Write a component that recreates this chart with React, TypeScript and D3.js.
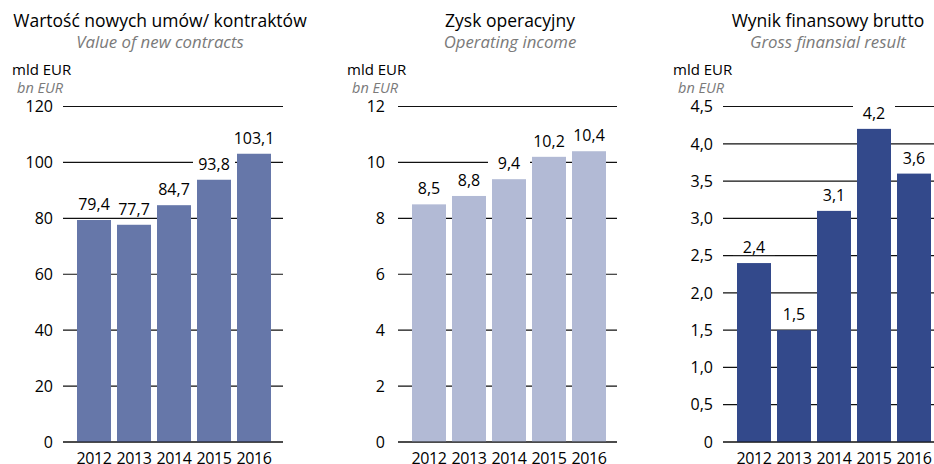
import React from "react";
import * as d3 from "d3";

const years = ["2012", "2013", "2014", "2015", "2016"];

const contractsValues = [79.4, 77.7, 84.7, 93.8, 103.1];
const contractsTicks = [0, 20, 40, 60, 80, 100, 120];

const operatingValues = [8.5, 8.8, 9.4, 10.2, 10.4];
const operatingTicks = [0, 2, 4, 6, 8, 10, 12];

const grossValues = [2.4, 1.5, 3.1, 4.2, 3.6];
const grossTicks = [0, 0.5, 1.0, 1.5, 2.0, 2.5, 3.0, 3.5, 4.0, 4.5];

const titles = ["Wartość nowych umów/ kontraktów", "Zysk operacyjny", "Wynik finansowy brutto"];
const subtitles = ["Value of new contracts", "Operating income", "Gross finansial result"];
const unitPl = "mld EUR";
const unitEn = "bn EUR";

const FONT = "'Open Sans', 'Noto Sans', sans-serif";

type PanelProps = {
  title: string;
  subtitle: string;
  values: number[];
  ticks: number[];
  tickFmt: (v: number) => string;
  valFmt: (v: number) => string;
  color: string;
  lineStart: number;
  lineEnd: number;
  tickRight: number;
  titleCenter: number;
  unitX: number;
};

function Panel(p: PanelProps) {
  const yMax = p.ticks[p.ticks.length - 1];
  const y = d3.scaleLinear().domain([0, yMax]).range([442, 106.5]);
  const x = d3
    .scaleBand<string>()
    .domain(years)
    .range([p.lineStart + 14, p.lineStart + 14 + 194])
    .paddingInner(0.15)
    .paddingOuter(0);
  const bw = x.bandwidth();
  return (
    <g fontFamily={FONT}>
      <text x={p.titleCenter} y={26.5} textAnchor="middle" fontSize={17.5} fill="#000">
        {p.title}
      </text>
      <text x={p.titleCenter} y={48} textAnchor="middle" fontSize={16.8} fontStyle="italic" fill="#7a7a7a">
        {p.subtitle}
      </text>
      <text x={p.unitX} y={75} fontSize={15} fill="#000">
        {unitPl}
      </text>
      <text x={p.unitX + 5} y={93} fontSize={14.5} fontStyle="italic" fill="#7a7a7a">
        {unitEn}
      </text>
      {p.ticks.map((t) => (
        <g key={t}>
          <line x1={p.lineStart} x2={p.lineEnd} y1={y(t)} y2={y(t)} stroke="#111" strokeWidth={1.2} />
          <text x={p.tickRight} y={y(t)} dy="0.36em" textAnchor="end" fontSize={16} fill="#000">
            {p.tickFmt(t)}
          </text>
        </g>
      ))}
      {p.values.map((v, i) => {
        const bx = x(years[i])!;
        return (
          <g key={years[i]}>
            <rect x={bx - 4} y={y(v) - 27} width={bw + 8} height={19} fill="#ffffff" />
            <rect x={bx} y={y(v)} width={bw} height={442 - y(v)} fill={p.color} />
            <text x={bx + bw / 2} y={y(v) - 10} textAnchor="middle" fontSize={16} fill="#000">
              {p.valFmt(v)}
            </text>
            <text
              x={bx + bw / 2}
              y={463.5}
              textAnchor="middle"
              fontSize={16}
              letterSpacing={-0.4}
              fill="#000"
            >
              {years[i]}
            </text>
          </g>
        );
      })}
      <line x1={p.lineStart} x2={p.lineEnd} y1={442} y2={442} stroke="#111" strokeWidth={1.2} />
    </g>
  );
}

const comma1 = (v: number) => d3.format(".1f")(v).replace(".", ",");
const intFmt = (v: number) => d3.format("d")(v);
const grossTickFmt = (v: number) => (v === 0 ? "0" : comma1(v));

export default function App() {
  return (
    <svg width={934} height={464} style={{ position: "absolute", left: 0, top: 0, background: "#fff" }}>
      <rect width={934} height={464} fill="#fff" />
      <Panel
        title={titles[0]}
        subtitle={subtitles[0]}
        values={contractsValues}
        ticks={contractsTicks}
        tickFmt={intFmt}
        valFmt={comma1}
        color="#6677a9"
        lineStart={63}
        lineEnd={283}
        tickRight={53}
        titleCenter={160}
        unitX={12}
      />
      <Panel
        title={titles[1]}
        subtitle={subtitles[1]}
        values={operatingValues}
        ticks={operatingTicks}
        tickFmt={intFmt}
        valFmt={comma1}
        color="#b2bad5"
        lineStart={398}
        lineEnd={617}
        tickRight={385}
        titleCenter={510}
        unitX={347}
      />
      <Panel
        title={titles[2]}
        subtitle={subtitles[2]}
        values={grossValues}
        ticks={grossTicks}
        tickFmt={grossTickFmt}
        valFmt={comma1}
        color="#33498b"
        lineStart={723}
        lineEnd={934}
        tickRight={713}
        titleCenter={828}
        unitX={673}
      />
    </svg>
  );
}
